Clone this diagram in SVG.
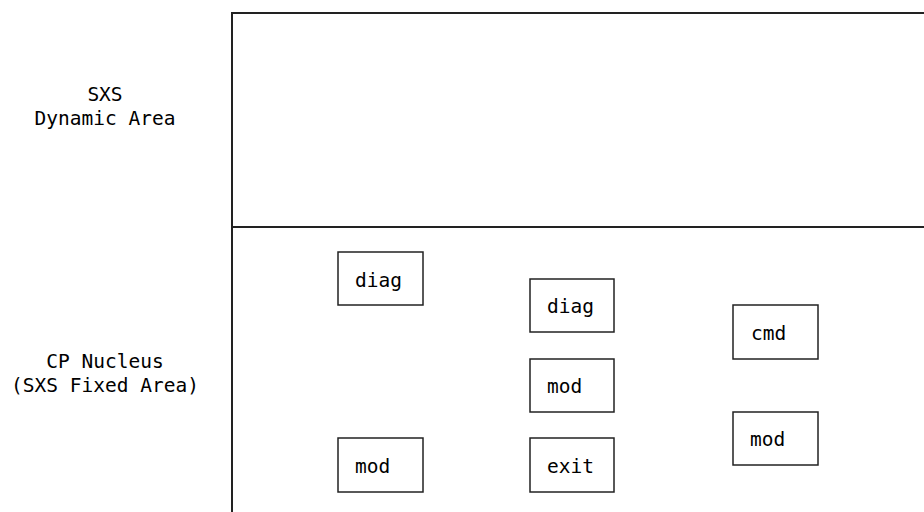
<svg xmlns="http://www.w3.org/2000/svg" width="924" height="512" viewBox="0 0 924 512">
<style>
text{font-family:"DejaVu Sans Mono","Liberation Mono",monospace;font-size:19.5px;fill:#000}
.lbl{text-anchor:middle}
.box{fill:#fff;stroke:#222;stroke-width:1.5}
.frame{fill:none;stroke:#222;stroke-width:2}
</style>
<rect width="924" height="512" fill="#fff"/>
<g id="frame">
<path class="frame" d="M232,513 V13 H925"/>
<path class="frame" d="M232,227 H925"/>
</g>
<g id="label-dynamic">
<text class="lbl" x="105" y="101">SXS</text>
<text class="lbl" x="105" y="125">Dynamic Area</text>
</g>
<g id="label-fixed">
<text class="lbl" x="105" y="368">CP Nucleus</text>
<text class="lbl" x="105" y="392">(SXS Fixed Area)</text>
</g>
<g id="diag1"><rect class="box" x="338" y="252" width="85" height="53"/><text x="355" y="287">diag</text></g>
<g id="diag2"><rect class="box" x="530" y="279" width="84" height="53"/><text x="547" y="313">diag</text></g>
<g id="mod-mid"><rect class="box" x="530" y="359" width="84" height="53"/><text x="547" y="393">mod</text></g>
<g id="mod-left"><rect class="box" x="338" y="438" width="85" height="54"/><text x="355" y="473">mod</text></g>
<g id="exit"><rect class="box" x="530" y="438" width="84" height="54"/><text x="547" y="473">exit</text></g>
<g id="cmd"><rect class="box" x="733" y="305" width="85" height="54"/><text x="751" y="340">cmd</text></g>
<g id="mod-right"><rect class="box" x="733" y="412" width="85" height="53"/><text x="750" y="446">mod</text></g>
<g id="connectors"></g>
</svg>
